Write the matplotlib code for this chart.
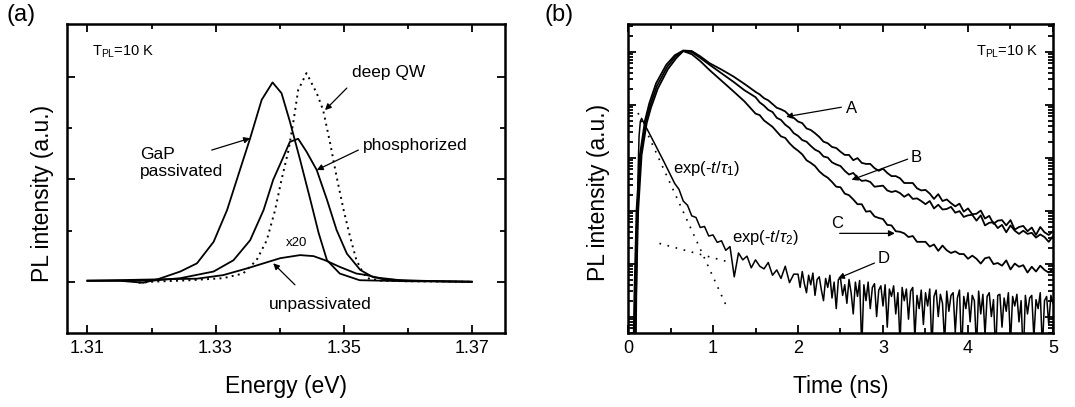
import numpy as np
import matplotlib
matplotlib.use('Agg')
import matplotlib.pyplot as plt
from matplotlib.ticker import MultipleLocator, LogLocator, NullFormatter

plt.rcParams['font.family'] = ['Liberation Sans', 'DejaVu Sans']
plt.rcParams['mathtext.fontset'] = 'custom'
plt.rcParams['mathtext.rm'] = 'Liberation Sans'
plt.rcParams['mathtext.it'] = 'Liberation Sans:italic'

# ---------------------------------------------------------------------------
# (a) PL spectra, energy in eV, intensity in arbitrary units
# ---------------------------------------------------------------------------
gap_E = [1.3100, 1.3150, 1.3187, 1.3210, 1.3245, 1.3271, 1.3297, 1.3318, 1.3338,
         1.3354, 1.3372, 1.3389, 1.3403, 1.3416, 1.3432, 1.3448, 1.3461, 1.3474,
         1.3494, 1.3525, 1.3600, 1.3700]
gap_I = [0.02, 0.02, -0.02, 0.05, 0.20, 0.36, 0.78, 1.40, 2.18,
         2.80, 3.55, 3.89, 3.68, 3.13, 2.38, 1.60, 0.95, 0.42,
         0.16, 0.03, 0.01, 0.0]

phos_E = [1.3100, 1.3150, 1.3200, 1.3245, 1.3297, 1.3328, 1.3354, 1.3375, 1.3390,
          1.3406, 1.3416, 1.3429, 1.3442, 1.3458, 1.3474, 1.3489, 1.3505, 1.3526,
          1.3546, 1.3588, 1.3650, 1.3700]
phos_I = [0.02, 0.02, 0.02, 0.07, 0.20, 0.42, 0.81, 1.40, 1.99,
          2.44, 2.73, 2.79, 2.54, 2.18, 1.60, 1.01, 0.55, 0.23,
          0.09, 0.03, 0.01, 0.0]

qw_E = [1.3180, 1.3200, 1.3260, 1.3312, 1.3343, 1.3364, 1.3380, 1.3393, 1.3403,
        1.3414, 1.3422, 1.3429, 1.3442, 1.3458, 1.3468, 1.3479, 1.3489, 1.3500,
        1.3510, 1.3520, 1.3528, 1.3536, 1.3560, 1.3600, 1.3700]
qw_I = [-0.02, 0.0, 0.03, 0.07, 0.16, 0.42, 0.81, 1.40, 1.99,
        2.57, 3.16, 3.74, 4.07, 3.68, 3.35, 2.70, 2.05, 1.40,
        0.88, 0.42, 0.23, 0.07, 0.02, 0.01, 0.0]

unp_E = [1.3100, 1.3224, 1.3271, 1.3312, 1.3349, 1.3375, 1.3401, 1.3432, 1.3453,
         1.3471, 1.3494, 1.3520, 1.3536, 1.3562, 1.3600, 1.3700]
unp_I = [0.02, 0.05, 0.06, 0.13, 0.26, 0.36, 0.46, 0.52, 0.50,
         0.42, 0.29, 0.16, 0.13, 0.05, 0.02, 0.0]

# ---------------------------------------------------------------------------
# (b) PL transients, time in ns, log10 of normalised intensity
# ---------------------------------------------------------------------------
a_head_t = [0.06, 0.075, 0.10, 0.14, 0.20, 0.25, 0.33, 0.45, 0.55, 0.65, 0.75, 0.85, 0.96, 1.10, 1.24, 1.37]
a_head = [-6.0, -4.6, -3.0, -1.95, -1.3, -0.98, -0.6, -0.25, -0.07, 0.02, 0.01, -0.09, -0.22, -0.34, -0.47, -0.61]
b_head_t = [0.07, 0.085, 0.11, 0.15, 0.21, 0.26, 0.34, 0.46, 0.56, 0.65, 0.75, 0.85, 0.96, 1.10, 1.24, 1.37]
b_head = [-6.0, -4.6, -3.0, -1.95, -1.32, -1.02, -0.65, -0.29, -0.09, 0.01, -0.01, -0.12, -0.25, -0.41, -0.57, -0.73]
c_head_t = [0.08, 0.095, 0.12, 0.16, 0.22, 0.27, 0.35, 0.47, 0.57, 0.65, 0.75, 0.85, 0.96, 1.10, 1.24, 1.37]
c_head = [-6.0, -4.6, -3.0, -1.95, -1.35, -1.06, -0.7, -0.33, -0.12, 0.01, -0.05, -0.18, -0.35, -0.55, -0.75, -0.94]
d_head_t = [0.09, 0.10, 0.11, 0.12, 0.13, 0.145, 0.16, 0.20, 0.25, 0.33, 0.42, 0.50, 0.55]
d_head = [-6.0, -4.5, -3.2, -2.2, -1.6, -1.32, -1.26, -1.39, -1.54, -1.79, -2.07, -2.33, -2.49]

# A-C tails sampled every 50 ps from 1.5 ns
a_tail = [-0.76, -0.81, -0.88, -0.92, -0.99, -1.06, -1.09, -1.13, -1.21, -1.25,
          -1.32, -1.35, -1.45, -1.48, -1.54, -1.61, -1.70, -1.73, -1.80, -1.82,
          -1.89, -1.95, -1.95, -2.05, -2.01, -2.10, -2.12, -2.12, -2.20, -2.25,
          -2.21, -2.29, -2.35, -2.35, -2.39, -2.48, -2.48, -2.48, -2.58, -2.62,
          -2.61, -2.68, -2.78, -2.69, -2.82, -2.79, -2.86, -2.92, -2.87, -3.02,
          -2.96, -3.07, -3.06, -3.00, -3.15, -3.10, -3.25, -3.19, -3.18, -3.28,
          -3.18, -3.36, -3.31, -3.29, -3.39, -3.32, -3.46, -3.31, -3.41, -3.46,
          -3.39]
b_tail = [-0.86, -0.96, -1.02, -1.10, -1.14, -1.25, -1.29, -1.38, -1.44, -1.54,
          -1.59, -1.67, -1.70, -1.78, -1.85, -1.89, -1.98, -2.00, -2.09, -2.13,
          -2.16, -2.25, -2.32, -2.29, -2.38, -2.44, -2.43, -2.46, -2.55, -2.54,
          -2.53, -2.62, -2.65, -2.63, -2.67, -2.74, -2.69, -2.78, -2.77, -2.82,
          -2.88, -2.82, -2.96, -2.89, -2.98, -2.97, -2.93, -3.04, -3.01, -3.12,
          -3.09, -3.08, -3.19, -3.09, -3.28, -3.23, -3.22, -3.33, -3.27, -3.41,
          -3.28, -3.38, -3.44, -3.38, -3.44, -3.42, -3.51, -3.45, -3.50, -3.59,
          -3.48]
c_tail = [-1.17, -1.20, -1.30, -1.36, -1.42, -1.51, -1.60, -1.63, -1.73, -1.81,
          -1.87, -1.94, -2.05, -2.10, -2.16, -2.26, -2.33, -2.38, -2.46, -2.55,
          -2.56, -2.68, -2.71, -2.79, -2.88, -2.88, -3.02, -3.01, -3.11, -3.14,
          -3.16, -3.27, -3.28, -3.39, -3.40, -3.43, -3.50, -3.48, -3.59, -3.59,
          -3.59, -3.68, -3.64, -3.76, -3.66, -3.75, -3.80, -3.77, -3.82, -3.82,
          -3.91, -3.85, -3.91, -4.00, -3.90, -3.88, -4.01, -3.99, -4.04, -3.94,
          -4.11, -4.00, -4.06, -4.03, -4.17, -4.06, -4.15, -4.04, -4.12, -4.17,
          -4.10]
# D: every 50 ps from 0.6 ns, then every 25 ps from 2.0 ns
d_tail1 = [-2.60, -2.82, -2.90, -3.10, -3.13, -3.32, -3.30, -3.48, -3.46, -3.60,
           -3.57, -3.75, -3.68, -4.25, -3.80, -3.93, -3.86, -4.08, -3.93, -4.05,
           -4.10, -3.98, -4.22, -4.12, -4.28, -4.05, -4.36, -4.20]
d_tail2 = [-4.20, -4.45, -4.15, -4.38, -4.55, -4.22, -4.40, -4.18, -4.60, -4.30,
           -4.25, -4.50, -4.70, -4.28, -4.45, -4.22, -4.65, -4.35, -4.85, -4.30,
           -4.28, -4.60, -4.40, -4.75, -4.30, -4.55, -4.95, -4.35, -4.62, -4.32,
           -5.60, -4.40, -4.70, -4.35, -4.85, -4.45, -4.38, -5.00, -4.50, -4.42,
           -4.80, -4.40, -5.20, -4.48, -4.62, -4.42, -4.95, -4.55, -5.50, -4.45,
           -4.70, -4.48, -5.05, -4.52, -4.45, -5.40, -4.60, -4.85, -4.50, -5.15,
           -4.55, -4.80, -4.48, -5.60, -4.62, -4.50, -5.00, -4.58, -4.75, -5.50,
           -4.52, -4.90, -4.60, -4.55, -5.30, -4.65, -4.50, -5.70, -4.62, -4.85,
           -4.55, -5.10, -4.60, -4.70, -5.60, -4.52, -4.95, -4.58, -5.35, -4.62,
           -4.55, -5.00, -4.68, -5.70, -4.60, -4.58, -5.20, -4.65, -4.90, -4.55,
           -5.50, -4.62, -4.80, -4.58, -5.10, -4.70, -5.80, -4.60, -4.95, -4.65,
           -4.60, -5.40, -4.68, -4.85, -4.55, -5.60, -4.70, -4.62, -5.15, -4.60,
           -4.75]

# single-exponential guides (end points)
tau1_t = [0.118, 1.16]
tau1_log = [-1.16, -4.81]
tau2_t = [0.37, 1.16]
tau2_log = [-3.62, -3.96]


def sampled(t0, step, vals):
    return t0 + step * np.arange(len(vals))


def style_axes(ax):
    ax.tick_params(which='both', direction='in', top=True, right=True,
                   width=1.3, labelsize=13, pad=5)
    ax.tick_params(which='major', length=6)
    ax.tick_params(which='minor', length=3.5)
    for sp in ax.spines.values():
        sp.set_linewidth(1.8)


fig = plt.figure(figsize=(10.75, 4.07), dpi=100)
W, H = 1075.0, 407.0

# ---------------- panel (a) ----------------
ax1 = fig.add_axes([67 / W, 1 - 333 / H, (505 - 67) / W, 309 / H])
ax1.plot(gap_E, gap_I, '-', color='k', lw=1.3)
ax1.plot(phos_E, phos_I, '-', color='k', lw=1.3)
ax1.plot(unp_E, unp_I, '-', color='k', lw=1.3)
ax1.plot(qw_E, qw_I, color='k', lw=1.4, linestyle=(0, (1, 2.2)))
ax1.set_xlim(1.3068, 1.3752)
ax1.set_ylim(-1.0, 5.03)
ax1.set_xticks([1.31, 1.33, 1.35, 1.37])
ax1.set_xticks([1.32, 1.34, 1.36], minor=True)
ax1.set_xticklabels(['1.31', '1.33', '1.35', '1.37'])
ax1.set_yticks([0, 2, 4])
ax1.set_yticks([1, 3], minor=True)
ax1.set_yticklabels([])
style_axes(ax1)
ax1.set_xlabel('Energy (eV)', fontsize=16.5)
ax1.xaxis.set_label_coords(0.5, -(387 - 333) / 309)
ax1.xaxis.label.set_va('center')
ax1.set_ylabel('PL intensity (a.u.)', fontsize=16.5, va='center')
ax1.yaxis.set_label_coords((43 - 67) / 438, 0.5 - 15 / 309)

arrow = dict(arrowstyle='-|>', color='k', lw=0.9, mutation_scale=9,
             shrinkA=0, shrinkB=0)
ax1.text((92 - 67) / 438, 0.909, r'T$_{\rm PL}$=10 K', transform=ax1.transAxes,
         fontsize=10.5, va='center', ha='left')
ax1.text(1.3513, 4.08, 'deep QW', fontsize=12.5, va='center')
ax1.annotate('', xy=(1.3471, 3.35), xytext=(1.3505, 3.78), arrowprops=arrow)
ax1.text(1.3182, 2.31, 'GaP\npassivated', fontsize=12.5, va='center',
         linespacing=1.15)
ax1.annotate('', xy=(1.3354, 2.80), xytext=(1.3294, 2.57), arrowprops=arrow)
ax1.text(1.3530, 2.66, 'phosphorized', fontsize=12.5, va='center')
ax1.annotate('', xy=(1.3458, 2.18), xytext=(1.3523, 2.57), arrowprops=arrow)
ax1.text(1.3409, 0.75, 'x20', fontsize=9.5, va='center')
ax1.text(1.3383, -0.44, 'unpassivated', fontsize=12.5, va='center')
ax1.annotate('', xy=(1.3390, 0.36), xytext=(1.3424, -0.06), arrowprops=arrow)

fig.text(7 / W, 1 - 15 / H, '(a)', fontsize=17, va='center', ha='left')

# ---------------- panel (b) ----------------
ax2 = fig.add_axes([628 / W, 1 - 333 / H, (1053 - 628) / W, 309 / H])
for head_t, head, tail in [(a_head_t, a_head, a_tail), (b_head_t, b_head, b_tail),
                           (c_head_t, c_head, c_tail)]:
    t = np.concatenate([head_t, sampled(1.5, 0.05, tail)])
    ax2.plot(t, 10.0 ** np.concatenate([head, tail]), '-', color='k', lw=1.3)
t = np.concatenate([d_head_t, sampled(0.6, 0.05, d_tail1), sampled(2.0, 0.025, d_tail2)])
ax2.plot(t, 10.0 ** np.concatenate([d_head, d_tail1, d_tail2]), '-', color='k', lw=1.1)
ax2.plot(tau1_t, 10.0 ** np.array(tau1_log), color='k', lw=1.2, linestyle=(0, (1, 4)))
ax2.plot(tau2_t, 10.0 ** np.array(tau2_log), color='k', lw=1.2, linestyle=(0, (1, 4)))

ax2.set_yscale('log')
ax2.set_xlim(0, 5)
ax2.set_ylim(10 ** -5.31, 10 ** 0.52)
ax2.xaxis.set_major_locator(MultipleLocator(1))
ax2.xaxis.set_minor_locator(MultipleLocator(0.5))
ax2.yaxis.set_major_locator(LogLocator(base=10, numticks=20))
ax2.yaxis.set_minor_locator(LogLocator(base=10, subs=np.arange(2, 10), numticks=20))
ax2.yaxis.set_major_formatter(NullFormatter())
ax2.yaxis.set_minor_formatter(NullFormatter())
style_axes(ax2)
ax2.set_xlabel('Time (ns)', fontsize=16.5)
ax2.xaxis.set_label_coords(0.5, -(387 - 333) / 309)
ax2.xaxis.label.set_va('center')
ax2.set_ylabel('PL intensity (a.u.)', fontsize=16.5, va='center')
ax2.yaxis.set_label_coords((598 - 628) / 425, 0.5 - 14 / 309)

ax2.text(0.965, 0.909, r'T$_{\rm PL}$=10 K', transform=ax2.transAxes,
         fontsize=10.5, va='center', ha='right')
ax2.text(2.56, 10 ** -1.07, 'A', fontsize=12, va='center')
ax2.annotate('', xy=(1.86, 10 ** -1.23), xytext=(2.51, 10 ** -1.05), arrowprops=arrow)
ax2.text(3.33, 10 ** -1.99, 'B', fontsize=12, va='center')
ax2.annotate('', xy=(2.63, 10 ** -2.42), xytext=(3.29, 10 ** -2.03), arrowprops=arrow)
ax2.text(2.39, 10 ** -3.24, 'C', fontsize=12, va='center')
ax2.annotate('', xy=(3.14, 10 ** -3.43), xytext=(2.49, 10 ** -3.43), arrowprops=arrow)
ax2.text(2.94, 10 ** -3.90, 'D', fontsize=12, va='center')
ax2.annotate('', xy=(2.47, 10 ** -4.28), xytext=(2.90, 10 ** -3.99), arrowprops=arrow)
ax2.text(0.53, 10 ** -2.2, r'exp(-$t$/$\tau_1$)', fontsize=12, va='center')
ax2.text(1.22, 10 ** -3.5, r'exp(-$t$/$\tau_2$)', fontsize=12, va='center')

fig.text(545 / W, 1 - 15 / H, '(b)', fontsize=17, va='center', ha='left')

fig.savefig('out.png', dpi=100, facecolor='white')
